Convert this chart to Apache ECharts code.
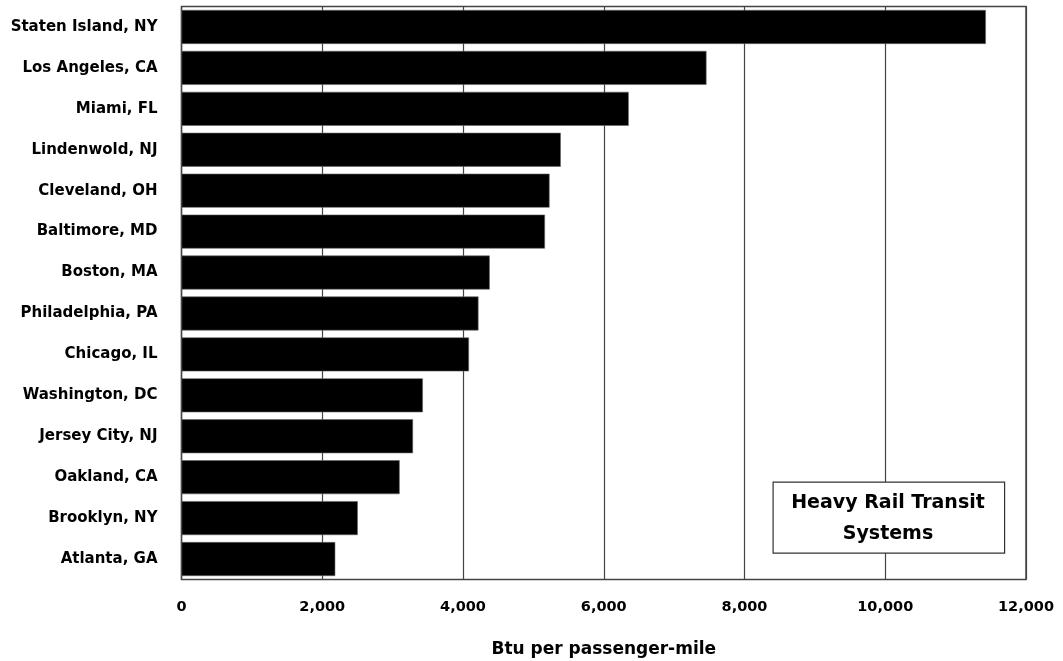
<!DOCTYPE html>
<html><head><meta charset="utf-8">
<script src="https://cdn.jsdelivr.net/npm/echarts@6/dist/echarts.min.js"></script>
<style>html,body{margin:0;padding:0;background:#fff}#c{width:1063px;height:661px}</style>
</head><body><div id="c"></div>
<script>
const categories = ["Staten Island, NY","Los Angeles, CA","Miami, FL","Lindenwold, NJ","Cleveland, OH","Baltimore, MD","Boston, MA","Philadelphia, PA","Chicago, IL","Washington, DC","Jersey City, NJ","Oakland, CA","Brooklyn, NY","Atlanta, GA"];
const btuValues = [11430,7460,6355,5390,5230,5165,4380,4220,4085,3430,3290,3100,2505,2185];
const xTicks = {min:0, max:12000, interval:2000};
const axisTitle = "Btu per passenger-mile";
const boxText = ["Heavy Rail Transit","Systems"];

const chart = echarts.init(document.getElementById('c'));
const FONT = '"DejaVu Sans", sans-serif';
chart.setOption({
  animation:false,
  backgroundColor:'#fff',
  grid:{left:181.5, right:37, top:6.5, bottom:81.5, show:true, borderColor:'#444', borderWidth:1.5, backgroundColor:'transparent', containLabel:false, outerBoundsMode:'none'},
  xAxis:{type:'value', min:xTicks.min, max:xTicks.max, interval:xTicks.interval,
    axisLine:{show:false}, axisTick:{show:false},
    splitLine:{show:true, lineStyle:{color:'#444', width:1.2}},
    axisLabel:{color:'#000', fontFamily:FONT, fontWeight:'bold', fontSize:14.5, margin:20,
      formatter:v=>v.toLocaleString('en-US')},
    name:axisTitle, nameLocation:'middle', nameGap:62,
    nameTextStyle:{color:'#000', fontFamily:FONT, fontWeight:'bold', fontSize:17}
  },
  yAxis:{type:'category', data:categories, inverse:true,
    axisLine:{show:false}, axisTick:{show:false}, splitLine:{show:false},
    axisLabel:{color:'#000', fontFamily:FONT, fontWeight:'bold', fontSize:15, margin:24}
  },
  series:[{type:'bar', data:btuValues, barCategoryGap:'17%',
    itemStyle:{color:'#000', borderColor:'#666', borderWidth:0.6}, silent:true}],
  graphic:[
    {type:'rect', left:772.5, top:481.5, shape:{width:231.5, height:71},
     style:{fill:'#fff', stroke:'#333', lineWidth:1.2}, z:100},
    {type:'text', x:888, y:503, z:101, style:{text:boxText[0], fill:'#000', font:'bold 19px '+FONT, textAlign:'center', textVerticalAlign:'middle'}},
    {type:'text', x:888, y:534, z:101, style:{text:boxText[1], fill:'#000', font:'bold 19px '+FONT, textAlign:'center', textVerticalAlign:'middle'}}
  ]
});
</script></body></html>
